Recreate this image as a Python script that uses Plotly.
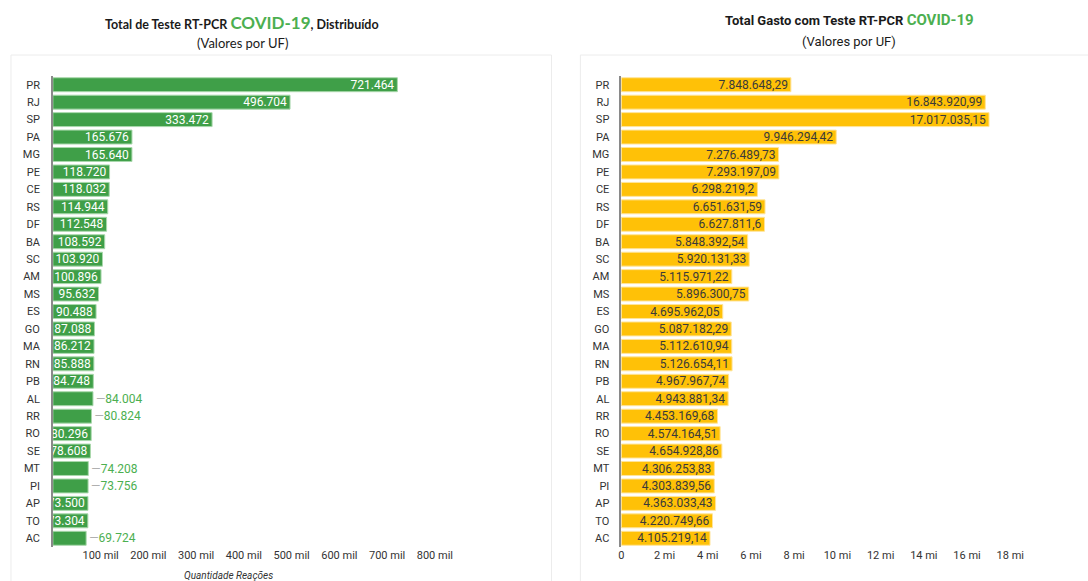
import plotly.graph_objects as go

# Unidades federativas (ordem de exibição, de cima para baixo)
ufs = ["PR", "RJ", "SP", "PA", "MG", "PE", "CE", "RS", "DF", "BA", "SC", "AM", "MS", "ES",
       "GO", "MA", "RN", "PB", "AL", "RR", "RO", "SE", "MT", "PI", "AP", "TO", "AC"]

# Quantidade de testes RT-PCR distribuídos por UF
testes = [721464, 496704, 333472, 165676, 165640, 118720, 118032, 114944, 112548, 108592,
          103920, 100896, 95632, 90488, 87088, 86212, 85888, 84748, 84004, 80824,
          80296, 78608, 74208, 73756, 73500, 73304, 69724]

# Total gasto (R$) com testes RT-PCR por UF
gasto = [7848648.29, 16843920.99, 17017035.15, 9946294.42, 7276489.73, 7293197.09,
         6298219.20, 6651631.59, 6627811.60, 5848392.54, 5920131.33, 5115971.22,
         5896300.75, 4695962.05, 5087182.29, 5112610.94, 5126654.11, 4967967.74,
         4943881.34, 4453169.68, 4574164.51, 4654928.86, 4306253.83, 4303839.56,
         4363033.43, 4220749.66, 4105219.14]

# UFs cujo rótulo fica fora da barra no gráfico de testes
rotulo_externo = ["AL", "RR", "MT", "PI", "AC"]

ticks_testes = [100000, 200000, 300000, 400000, 500000, 600000, 700000, 800000]
ticks_gasto = [0, 2e6, 4e6, 6e6, 8e6, 10e6, 12e6, 14e6, 16e6, 18e6]

W, H = 1088, 581
VERDE = "#3f9f48"
VERDE_TXT = "#4caf50"
AMARELO = "#ffc107"


def br_int(v):
    return f"{v:,}".replace(",", ".")


def br_dec(v):
    s = f"{v:,.2f}"
    inteiro, dec = s.split(".")
    inteiro = inteiro.replace(",", ".")
    dec = dec.rstrip("0")
    return inteiro + ("," + dec if dec else "")


def px(x):
    return x / W


def py(y):
    return 1 - y / H


txt_testes = []
pos_testes = []
for uf, v in zip(ufs, testes):
    if uf in rotulo_externo:
        txt_testes.append("<span style='color:#b0b0b0'>—</span>" + br_int(v))
        pos_testes.append("outside")
    else:
        txt_testes.append(br_int(v))
        pos_testes.append("inside")

fig = go.Figure()

fig.add_trace(go.Bar(
    x=testes, y=ufs, orientation="h", xaxis="x", yaxis="y",
    marker=dict(color=VERDE, line=dict(color="#a9d8ac", width=1)),
    text=txt_testes, textposition=pos_testes, textangle=0,
    insidetextanchor="end", cliponaxis=True,
    insidetextfont=dict(color="white", size=12, family="Roboto"),
    outsidetextfont=dict(color=VERDE_TXT, size=12, family="Roboto"),
    hoverinfo="x+y", showlegend=False,
))

fig.add_trace(go.Bar(
    x=gasto, y=ufs, orientation="h", xaxis="x2", yaxis="y2",
    marker=dict(color=AMARELO, line=dict(color="#ffe49a", width=1)),
    text=[br_dec(v) for v in gasto], textposition="inside", textangle=0,
    insidetextanchor="end", cliponaxis=True,
    insidetextfont=dict(color="#3a3a3a", size=12, family="Roboto"),
    hoverinfo="x+y", showlegend=False,
))

tick_font = dict(family="Roboto", size=11, color="#333333")
ydom = [py(547), py(76)]

fig.update_layout(
    width=W, height=H,
    margin=dict(l=0, r=0, t=0, b=0),
    paper_bgcolor="white", plot_bgcolor="rgba(0,0,0,0)",
    bargap=0.2,
    uniformtext=dict(minsize=12, mode="show"),
    xaxis=dict(domain=[px(50), px(457)], range=[0, 850000], anchor="y",
               tickvals=ticks_testes,
               ticktext=[f"{int(t / 1000)} mil" for t in ticks_testes],
               showgrid=False, zeroline=False, showline=False, ticks="",
               tickfont=tick_font, fixedrange=True),
    yaxis=dict(domain=ydom, anchor="x", autorange="reversed", type="category",
               showgrid=False, showline=True, linecolor="#8a8a8a", linewidth=1.5,
               ticks="", ticklabelstandoff=9, tickfont=tick_font),
    xaxis2=dict(domain=[px(620), px(620 + 21.67 * 20)], range=[0, 20e6], anchor="y2",
                tickvals=ticks_gasto,
                ticktext=["0" if t == 0 else f"{int(t / 1e6)} mi" for t in ticks_gasto],
                showgrid=False, zeroline=False, showline=False, ticks="",
                tickfont=tick_font, fixedrange=True),
    yaxis2=dict(domain=ydom, anchor="x2", autorange="reversed", type="category",
                showgrid=False, showline=True, linecolor="#8a8a8a", linewidth=1.5,
                ticks="", ticklabelstandoff=8, tickfont=tick_font),
)

# Cartões de fundo dos dois painéis
for x0, x1 in [(8, 550), (579, 1100)]:
    fig.add_shape(type="rect", xref="paper", yref="paper", layer="below",
                  x0=px(x0), x1=px(x1), y0=py(600), y1=py(55),
                  line=dict(color="#ececec", width=1), fillcolor="white")

anots = [
    dict(x=px(240), y=py(23),
         text="<b>Total de Teste RT-PCR <span style='color:" + VERDE_TXT +
              ";font-size:17px'>COVID-19</span>, Distribuído</b>",
         font=dict(family="Lato", size=12.5, color="#1a1a1a")),
    dict(x=px(240), y=py(43), text="(Valores por UF)",
         font=dict(family="Lato", size=13, color="#1a1a1a")),
    dict(x=px(849), y=py(20),
         text="<b>Total Gasto com Teste RT-PCR <span style='color:" + VERDE_TXT +
              ";font-size:15px'>COVID-19</span></b>",
         font=dict(family="Roboto", size=13, color="#1a1a1a")),
    dict(x=px(848), y=py(41), text="(Valores por UF)",
         font=dict(family="Roboto", size=13, color="#1a1a1a")),
    dict(x=px(226), y=py(575), text="<i>Quantidade Reações</i>",
         font=dict(family="Roboto", size=10, color="#333333")),
]
for a in anots:
    fig.add_annotation(xref="paper", yref="paper", showarrow=False,
                       xanchor="center", yanchor="middle", **a)

fig.write_html("out.html")
